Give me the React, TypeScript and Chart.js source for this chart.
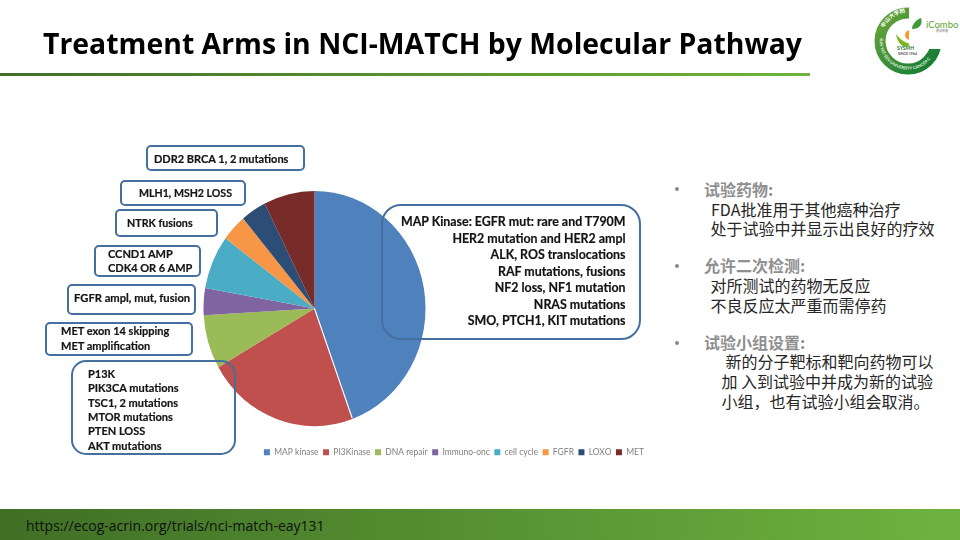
import React, { useEffect, useRef } from "react";
import { Chart, registerables } from "chart.js";

Chart.register(...registerables);

const categories = ["MAP kinase", "PI3Kinase", "DNA repair", "Immuno-onc", "cell cycle", "FGFR", "LOXO", "MET"];
const values = [12, 6, 2, 1, 2, 1, 1, 2];
const sliceColors = ["#4f81bd", "#c0504d", "#9bbb59", "#8064a2", "#4bacc6", "#f79646", "#2c4d75", "#772c2a"];

const calloutMap = ["MAP Kinase: EGFR mut: rare and T790M", "HER2 mutation and HER2 ampl", "ALK, ROS translocations", "RAF mutations, fusions", "NF2 loss, NF1 mutation", "NRAS mutations", "SMO, PTCH1, KIT mutations"];
const calloutPi3k = ["P13K", "PIK3CA mutations", "TSC1, 2 mutations", "MTOR mutations", "PTEN LOSS", "AKT mutations"];

const TEXT = "Lato, Carlito, sans-serif";
const CJK = '"Noto Sans CJK SC", sans-serif';
const BOX = "#456f9f";

const ellipsePlugin = {
  id: "ellipse",
  beforeDatasetsDraw(chart: any) {
    const arc = chart.getDatasetMeta(0).data[0];
    const ctx = chart.ctx;
    ctx.save();
    ctx.translate(arc.x, arc.y);
    ctx.scale(111 / 117.5, 1);
    ctx.translate(-arc.x, -arc.y);
  },
  afterDatasetsDraw(chart: any) {
    const arc = chart.getDatasetMeta(0).data[0];
    const ctx = chart.ctx;
    ctx.strokeStyle = "#ffffff";
    ctx.lineWidth = 1.2;
    ctx.beginPath();
    ctx.moveTo(arc.x, arc.y);
    ctx.lineTo(arc.x + Math.cos(arc.endAngle) * (arc.outerRadius - 1), arc.y + Math.sin(arc.endAngle) * (arc.outerRadius - 1));
    ctx.stroke();
    ctx.restore();
  },
};

const abs = (left: number, top: number, extra: React.CSSProperties = {}): React.CSSProperties => ({
  position: "absolute",
  left,
  top,
  whiteSpace: "pre",
  ...extra,
});

function Line({ x, y, text, right, size = 11 }: { x: number; y: number; text: string; right?: boolean; size?: number }) {
  const st: React.CSSProperties = {
    position: "absolute",
    top: y - 8,
    height: 16,
    lineHeight: "16px",
    fontFamily: TEXT,
    fontWeight: 700,
    fontSize: size,
    color: "#141414",
    whiteSpace: "pre",
    WebkitTextStroke: "0.2px #141414",
  };
  if (right) st.right = 960 - x;
  else st.left = x;
  return <div style={st}>{text}</div>;
}

function Box({ l, t, r, b, radius = 5 }: { l: number; t: number; r: number; b: number; radius?: number }) {
  return (
    <div
      style={{
        position: "absolute",
        left: l,
        top: t,
        width: r - l,
        height: b - t,
        boxSizing: "border-box",
        border: `2px solid ${BOX}`,
        borderRadius: radius,
      }}
    />
  );
}

function Cjk({ x, y, text, head }: { x: number; y: number; text: string; head?: boolean }) {
  return (
    <div
      style={abs(x, y - 11, {
        height: 22,
        lineHeight: "22px",
        fontFamily: CJK,
        fontSize: 16,
        fontWeight: head ? 700 : 400,
        color: head ? "#8f8f8f" : "#262626",
      })}
    >
      {text}
    </div>
  );
}

export default function App() {
  const ref = useRef<HTMLCanvasElement>(null);
  useEffect(() => {
    document.body.style.margin = "0";
    const chart = new Chart(ref.current!, {
      type: "pie",
      data: {
        labels: categories,
        datasets: [{ data: values, backgroundColor: sliceColors, borderWidth: 0, clip: false } as any],
      },
      options: {
        responsive: false,
        animation: false,
        layout: { padding: { top: 191, bottom: 73.6, left: 2.5, right: 2.5 } },
        plugins: {
          tooltip: { enabled: false },
          legend: {
            display: true,
            position: "bottom",
            align: "end",
            title: { display: true, text: " ", font: { size: 8 }, padding: { top: 7.8, bottom: 0 } },
            labels: {
              boxWidth: 6,
              boxHeight: 6,
              padding: 4.5,
              color: "#7f7f7f",
              font: { family: TEXT, size: 8.5 },
            },
          },
        },
      },
      plugins: [ellipsePlugin],
    } as any);
    return () => chart.destroy();
  }, []);

  return (
    <div style={{ position: "relative", width: 960, height: 540, overflow: "hidden", background: "#fff" }}>
      <canvas ref={ref} width={673} height={540} style={{ position: "absolute", left: -22, top: 0 }} />

      <div style={abs(43, 23, { fontFamily: '"Open Sans", sans-serif', fontWeight: 700, fontSize: 28.4, lineHeight: "40px", color: "#000" })}>
        Treatment Arms in NCI-MATCH by Molecular Pathway
      </div>
      <div style={{ position: "absolute", left: 0, top: 73, width: 810, height: 3, background: "linear-gradient(90deg,#3f6f25,#6eb33f)" }} />

      <svg style={{ position: "absolute", left: 860, top: 0 }} width={100} height={80}>
        <defs>
          <path id="ringBottom" d="M20 38 A28.5 28.5 0 0 0 76 48" fill="none" />
          <path id="ringTop" d="M24 28 A28 28 0 0 1 49 12" fill="none" />
          <linearGradient id="ringFill" x1="0" y1="0" x2="1" y2="1">
            <stop offset="0" stopColor="#6aa53a" />
            <stop offset="1" stopColor="#0f7a35" />
          </linearGradient>
        </defs>
        <circle cx={48} cy={41} r={28} fill="none" stroke="url(#ringFill)" strokeWidth={11} />
        <path d="M36 34 C38 46 46 50 54 44 C48 44 42 42 36 34Z" fill="#7ab51d" />
        <circle cx={50} cy={35} r={5} fill="#f39c2d" />
        <rect x={49} y={0} width={51} height={49} fill="#fff" />
        <text fontFamily={TEXT} fontSize={4.2} fontWeight={700} fill="#e8f3e0">
          <textPath href="#ringBottom">SUN YAT-SEN UNIVERSITY CANCER C</textPath>
        </text>
        <text fontFamily={CJK} fontSize={5.5} fontWeight={700} fill="#ffffff">
          <textPath href="#ringTop">中山大学附</textPath>
        </text>
        <path d="M52 29 C52 23 58 19 61 18 C63 24 60 29 52 29Z" fill="#3f9b3a" />
        <text x={66} y={28} fontFamily={TEXT} fontSize={9.5} fill="#55a630">iCombo</text>
        <text x={76} y={32} fontFamily={CJK} fontSize={3} fill="#777777">循证肿瘤</text>
        <text x={37} y={50} fontFamily={TEXT} fontWeight={700} fontSize={5} fill="#2a7a3a">SYSMH</text>
        <text x={38} y={55} fontFamily={TEXT} fontWeight={700} fontSize={3.5} fill="#555555">SINCE 1964</text>
      </svg>

      <Box l={145.5} t={145} r={305} b={171} />
      <Line x={154} y={159} text="DDR2 BRCA 1, 2 mutations" />
      <Box l={119.5} t={180} r={246} b={205.5} />
      <Line x={139} y={193} text="MLH1, MSH2 LOSS" size={10.6} />
      <Box l={114.5} t={209} r={218} b={237} />
      <Line x={127} y={223} text="NTRK fusions" size={10.7} />
      <Box l={93.5} t={244.5} r={201} b={277} />
      <Line x={108} y={254} text="CCND1 AMP" />
      <Line x={108} y={268} text="CDK4 OR 6 AMP" />
      <Box l={66.5} t={284} r={196} b={314.5} />
      <Line x={74} y={298} text="FGFR ampl, mut, fusion" size={11.2} />
      <Box l={45} t={321.5} r={193} b={355.5} />
      <Line x={61} y={331} text="MET exon 14 skipping" />
      <Line x={61} y={345.5} text="MET amplification" />
      <Box l={71} t={360} r={236} b={455} radius={15} />
      {calloutPi3k.map((t, i) => (
        <Line key={t} x={88} y={373.7 + i * 14.4} text={t} />
      ))}
      <Box l={380.5} t={203.5} r={641} b={340} radius={20} />
      {calloutMap.map((t, i) => (
        <Line key={t} x={625.5} y={222.3 + i * 16.45} text={t} right size={12.4} />
      ))}

      {[189, 266, 343].map((y) => (
        <div key={y} style={{ position: "absolute", left: 675, top: y - 2, width: 4, height: 4, borderRadius: 2, background: "#8a8a8a" }} />
      ))}
      <Cjk x={704} y={188.5} text="试验药物:" head />
      <Cjk x={711} y={209} text="FDA批准用于其他癌种治疗" />
      <Cjk x={710.5} y={228} text="处于试验中并显示出良好的疗效" />
      <Cjk x={704} y={265} text="允许二次检测:" head />
      <Cjk x={710.5} y={284.5} text="对所测试的药物无反应" />
      <Cjk x={710.5} y={305} text="不良反应太严重而需停药" />
      <Cjk x={704} y={342} text="试验小组设置:" head />
      <Cjk x={725.5} y={361} text="新的分子靶标和靶向药物可以" />
      <Cjk x={721.5} y={381} text="加 入到试验中并成为新的试验" />
      <Cjk x={721.5} y={401} text="小组，也有试验小组会取消。" />

      <div style={{ position: "absolute", left: 0, top: 509, width: 960, height: 31, background: "linear-gradient(90deg,#3f6f25,#6eb33f)" }} />
      <div style={abs(26, 516, { fontFamily: '"Open Sans", sans-serif', fontSize: 14, lineHeight: "20px", color: "#111" })}>
        https://ecog-acrin.org/trials/nci-match-eay131
      </div>
    </div>
  );
}
